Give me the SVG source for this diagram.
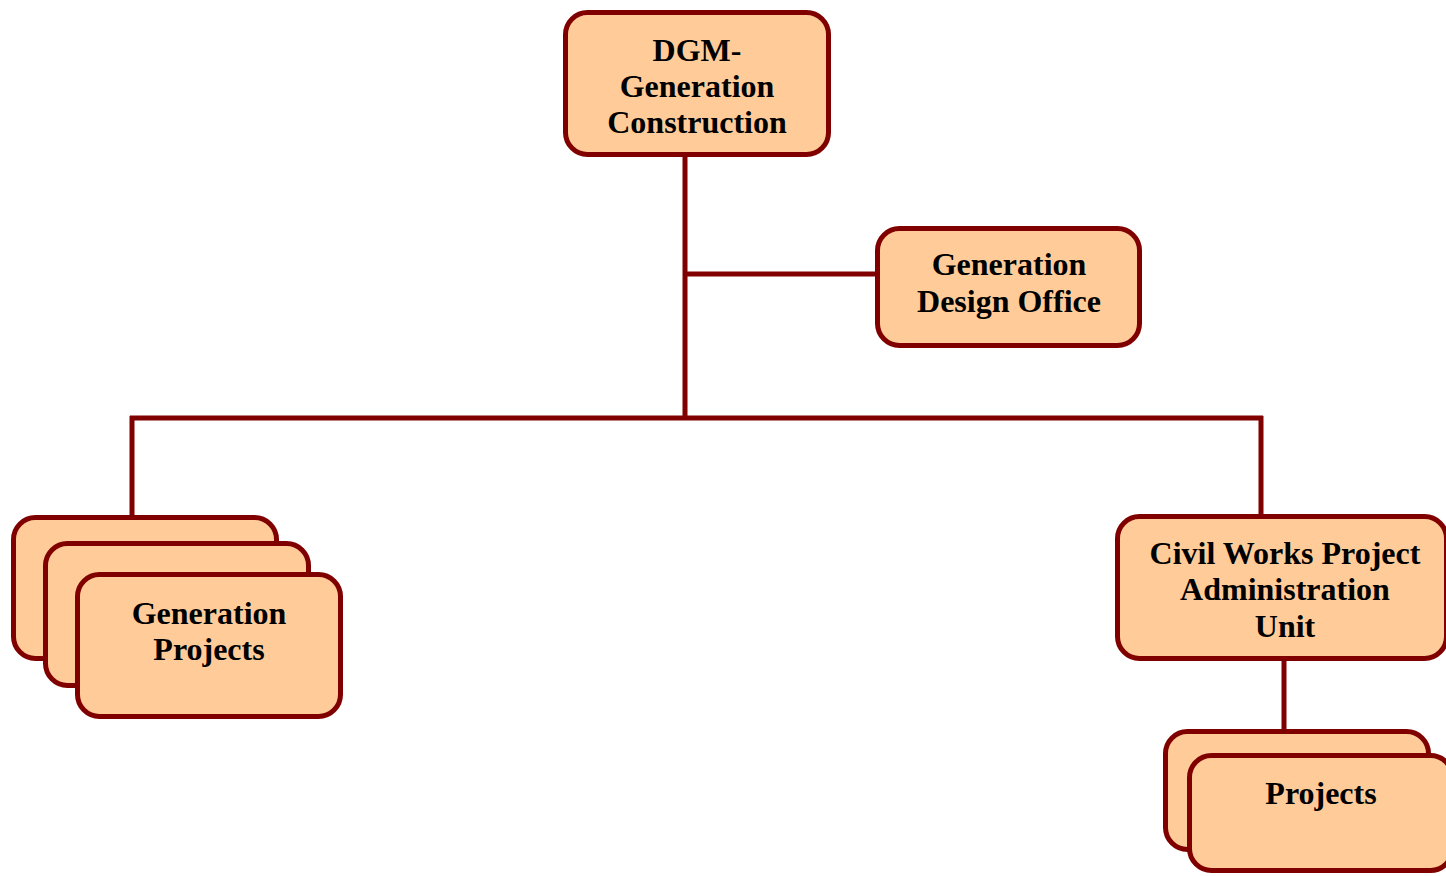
<svg xmlns="http://www.w3.org/2000/svg" width="1446" height="876" viewBox="0 0 1446 876">
<style>
.box{fill:#FFCC99;stroke:#800000;stroke-width:5}
.lbl{font-family:"Liberation Serif","Times New Roman",serif;font-weight:bold;font-size:32px;fill:#000;text-anchor:middle}
.con{stroke:#800000;stroke-width:5;fill:none}
</style>
<rect width="1446" height="876" fill="#fff"/>
<g id="connectors" class="con">
<line x1="685" y1="155" x2="685" y2="420"/>
<line x1="685" y1="274" x2="877" y2="274"/>
<line x1="130" y1="418" x2="1263" y2="418"/>
<line x1="132" y1="416" x2="132" y2="517"/>
<line x1="1261" y1="416" x2="1261" y2="516"/>
<line x1="1284" y1="659" x2="1284" y2="731"/>
</g>
<g id="dgm">
<rect class="box" x="565.5" y="12.5" width="263" height="142" rx="22"/>
<text class="lbl" x="697" y="61">DGM-</text>
<text class="lbl" x="697" y="97">Generation</text>
<text class="lbl" x="697" y="133">Construction</text>
</g>
<g id="design">
<rect class="box" x="877.5" y="228.5" width="262" height="117" rx="22"/>
<text class="lbl" x="1009" y="275">Generation</text>
<text class="lbl" x="1009" y="312">Design Office</text>
</g>
<g id="genprojects">
<rect class="box" x="13.5" y="517.5" width="263" height="141" rx="22"/>
<rect class="box" x="45.5" y="543.5" width="263" height="142" rx="22"/>
<rect class="box" x="77.5" y="574.5" width="263" height="142" rx="22"/>
<text class="lbl" x="209" y="624">Generation</text>
<text class="lbl" x="209" y="660">Projects</text>
</g>
<g id="civil">
<rect class="box" x="1117.5" y="516.5" width="329" height="142" rx="22"/>
<text class="lbl" x="1285" y="564">Civil Works Project</text>
<text class="lbl" x="1285" y="600">Administration</text>
<text class="lbl" x="1285" y="637">Unit</text>
</g>
<g id="projects">
<rect class="box" x="1165.5" y="731.5" width="263" height="118" rx="22"/>
<rect class="box" x="1189.5" y="755.5" width="263" height="115" rx="22"/>
<text class="lbl" x="1321" y="804">Projects</text>
</g>
</svg>
